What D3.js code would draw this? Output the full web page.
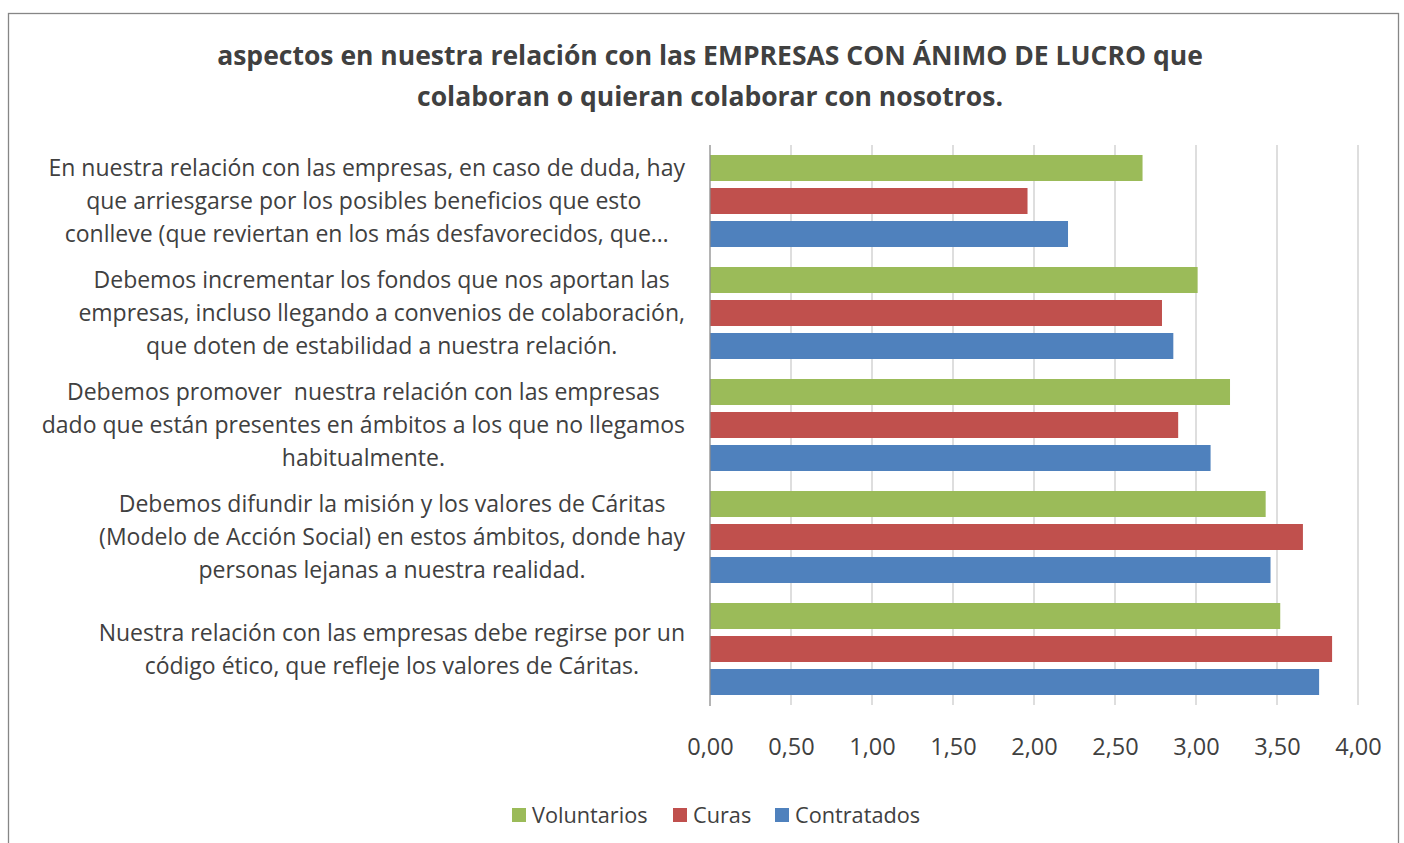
<!DOCTYPE html>
<html>
<head>
<meta charset="utf-8">
<script src="https://cdn.jsdelivr.net/npm/d3@7"></script>
<style>
  body { margin: 0; background: #fff; }
  svg text { font-family: "Open Sans", "Noto Sans", sans-serif; fill: #404040; white-space: pre; }
</style>
</head>
<body>
<div class="panel"></div>
<script>
const categories = [
  ["En nuestra relación con las empresas, en caso de duda, hay",
   "que arriesgarse por los posibles beneficios que esto ",
   "conlleve (que reviertan en los más desfavorecidos, que…"],
  ["Debemos incrementar los fondos que nos aportan las",
   "empresas, incluso llegando a convenios de colaboración,",
   "que doten de estabilidad a nuestra relación."],
  ["Debemos promover  nuestra relación con las empresas",
   "dado que están presentes en ámbitos a los que no llegamos",
   "habitualmente."],
  ["Debemos difundir la misión y los valores de Cáritas",
   "(Modelo de Acción Social) en estos ámbitos, donde hay",
   "personas lejanas a nuestra realidad."],
  ["Nuestra relación con las empresas debe regirse por un",
   "código ético, que refleje los valores de Cáritas."]
];
const seriesNames = ["Voluntarios", "Curas", "Contratados"];
const seriesColors = ["#9BBB59", "#C0504D", "#4F81BD"];
const voluntarios = [2.67, 3.01, 3.21, 3.43, 3.52];
const curas = [1.96, 2.79, 2.89, 3.66, 3.84];
const contratados = [2.21, 2.86, 3.09, 3.46, 3.76];
const tickValues = [0, 0.5, 1, 1.5, 2, 2.5, 3, 3.5, 4];
const titleLines = [
  "aspectos en nuestra relación con las EMPRESAS CON ÁNIMO DE LUCRO que",
  "colaboran o quieran colaborar con nosotros."
];

const width = 1404;
const height = 843;

const svg = d3.select(".panel")
  .append("svg")
  .attr("width", width)
  .attr("height", height);

// chart frame
svg.append("rect")
   .attr("x", 8.5).attr("y", 13.5)
   .attr("width", 1390).attr("height", 850)
   .attr("fill", "#fff")
   .attr("stroke", "#868686")
   .attr("stroke-width", 1.3);

svg.selectAll(".title")
   .data(titleLines)
   .enter().append("text")
   .attr("class", "title")
   .attr("x", 710)
   .attr("y", (d, i) => 65 + i * 41)
   .attr("text-anchor", "middle")
   .style("font-weight", "bold")
   .style("font-size", "26.5px")
   .text(d => d);

const series = [voluntarios, curas, contratados];
const idx = d3.range(categories.length);

const xScale = d3.scaleLinear().domain([0, 4]).range([710, 1358]);
const yScale = d3.scaleBand().domain(idx).range([145, 705]);
const ySub = d3.scaleBand().domain(d3.range(3))
  .range([10, yScale.bandwidth() - 10]).paddingInner(0.212);

// gridlines
svg.append("g")
   .selectAll("line")
   .data(tickValues.slice(1))
   .enter().append("line")
   .attr("x1", d => xScale(d)).attr("x2", d => xScale(d))
   .attr("y1", 145).attr("y2", 705)
   .attr("stroke", "#c8c8c8")
   .attr("stroke-width", 1.2);

// bars
const groups = svg.append("g")
  .selectAll("g")
  .data(idx)
  .enter().append("g")
  .attr("transform", i => `translate(0,${yScale(i)})`);

groups.selectAll("rect")
  .data(i => series.map((s, k) => ({ k: k, v: s[i] })))
  .enter().append("rect")
  .attr("x", xScale(0))
  .attr("y", d => ySub(d.k))
  .attr("width", d => xScale(d.v) - xScale(0))
  .attr("height", ySub.bandwidth())
  .attr("fill", d => seriesColors[d.k]);

// x axis labels (no line)
const xAxis = d3.axisBottom(xScale)
  .tickValues(tickValues)
  .tickSize(0)
  .tickPadding(0)
  .tickFormat(d => d3.format(".2f")(d).replace(".", ","));

const gx = svg.append("g")
  .attr("transform", "translate(0,738)")
  .call(xAxis);
gx.select(".domain").remove();
gx.selectAll("text").style("font-size", "23.5px").attr("fill", "#404040");

// category axis line
svg.append("line")
   .attr("x1", xScale(0)).attr("x2", xScale(0))
   .attr("y1", 145).attr("y2", 706)
   .attr("stroke", "#8c8c8c")
   .attr("stroke-width", 1.3);

// category labels: block right-aligned, lines centered inside the block
const lineH = 33;
categories.forEach((lines, i) => {
  const g = svg.append("g");
  const texts = g.selectAll("text")
    .data(lines)
    .enter().append("text")
    .style("font-size", "23px")
    .attr("text-anchor", "middle")
    .attr("dy", "0.35em")
    .text(d => d);
  let maxW = 0;
  texts.each(function() { maxW = Math.max(maxW, this.getComputedTextLength()); });
  const cx = 685 - maxW / 2;
  const cy = yScale(i) + yScale.bandwidth() / 2;
  texts.attr("x", cx)
       .attr("y", (d, j) => cy + (j - (lines.length - 1) / 2) * lineH);
});

// legend
const legend = svg.append("g").attr("transform", "translate(0,815)");
const legendX = [512, 673, 775];
seriesNames.forEach((name, k) => {
  legend.append("rect")
    .attr("x", legendX[k]).attr("y", -7)
    .attr("width", 14).attr("height", 14)
    .attr("fill", seriesColors[k]);
  legend.append("text")
    .attr("x", legendX[k] + 20)
    .attr("dy", "0.35em")
    .style("font-size", "21.7px")
    .text(name);
});
</script>
</body>
</html>
